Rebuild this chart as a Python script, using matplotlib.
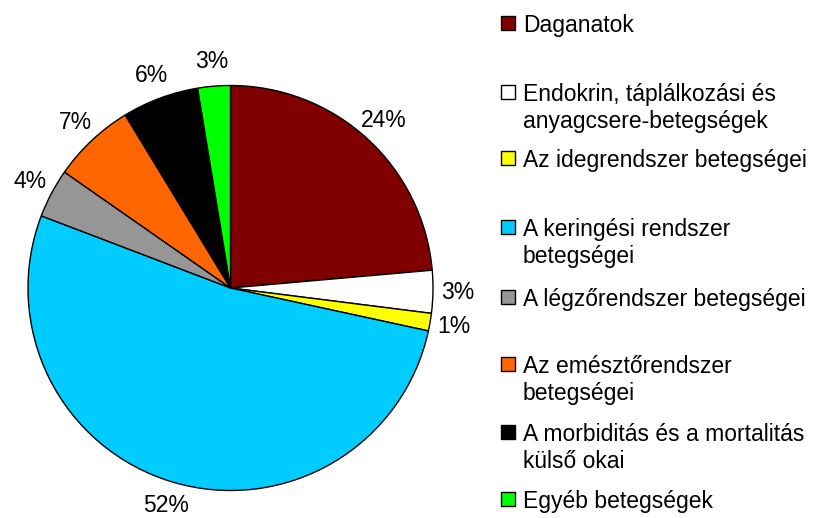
import matplotlib
matplotlib.use("Agg")
import matplotlib.pyplot as plt
from matplotlib.patches import Rectangle

plt.rcParams['font.family'] = ['Liberation Sans', 'DejaVu Sans']

categories = [
    "Daganatok",
    "Endokrin, táplálkozási és\nanyagcsere-betegségek",
    "Az idegrendszer betegségei",
    "A keringési rendszer\nbetegségei",
    "A légzőrendszer betegségei",
    "Az emésztőrendszer\nbetegségei",
    "A morbiditás és a mortalitás\nkülső okai",
    "Egyéb betegségek",
]
values = [23.6, 3.4, 1.4, 52.4, 3.9, 6.6, 6.1, 2.6]
colors = ["#800000", "#FFFFFF", "#FFFF00", "#00CCFF", "#969696", "#FF6600", "#000000", "#00FF00"]

W, H = 822, 518
fig = plt.figure(figsize=(W / 100, H / 100), dpi=100)
fig.patch.set_facecolor("white")

FS = 16.5
cx, cy, r = 230.5, 288, 202.5
ax = fig.add_axes([(cx - r) / W, (H - cy - r) / H, 2 * r / W, 2 * r / H])
wedges, texts, autotexts = ax.pie(values, colors=colors, startangle=90, counterclock=False,
                                  autopct="%1.0f%%", pctdistance=1.12,
                                  wedgeprops=dict(edgecolor="black", linewidth=1.0),
                                  textprops=dict(fontsize=FS, clip_on=False, color="black"))
ax.set_xlim(-1, 1)
ax.set_ylim(-1, 1)
ax.set_aspect("equal")
ax.axis("off")

# Legend (manual to match irregular spacing)
ys = [23, 92, 158, 227, 297, 364, 432, 499]
line_gap = 27
sq = 14
for cat, col, y in zip(categories, colors, ys):
    fig.patches.append(Rectangle(((508 - sq / 2) / W, (H - y - sq / 2) / H), sq / W, sq / H,
                                 transform=fig.transFigure, facecolor=col,
                                 edgecolor="black", linewidth=1.0))
    for i, line in enumerate(cat.split("\n")):
        fig.text(523 / W, (H - y - i * line_gap) / H, line, fontsize=FS,
                 ha="left", va="center_baseline", color="black")

fig.savefig("out.png", dpi=100)
